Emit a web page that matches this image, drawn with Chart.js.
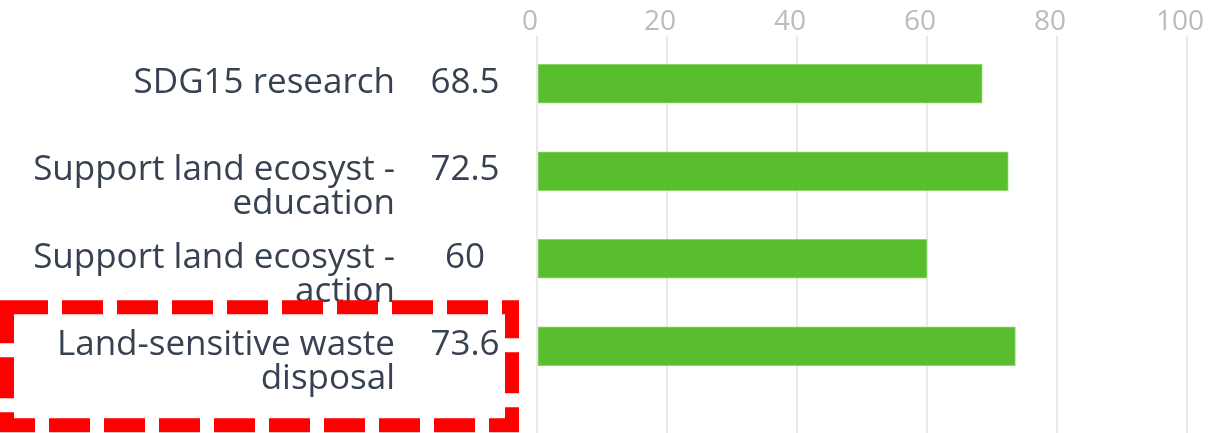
<!DOCTYPE html>
<html>
<head>
<meta charset="utf-8">
<script src="https://cdn.jsdelivr.net/npm/chart.js@4"></script>
<style>
  html, body { margin: 0; padding: 0; background: #fff; overflow: hidden; }
  #wrap { position: relative; width: 1215px; height: 433px; }
</style>
</head>
<body>
<div id="wrap"><canvas id="chart"></canvas></div>
<script>
// chart values
const categories = [
  ['SDG15 research'],
  ['Support land ecosyst -', 'education'],
  ['Support land ecosyst -', 'action'],
  ['Land-sensitive waste', 'disposal'],
];
const scores = [68.5, 72.5, 60, 73.6];
const scoreLabels = ['68.5', '72.5', '60', '73.6'];
const xTicks = [0, 20, 40, 60, 80, 100];
const highlighted = 3;

const TEXT = '#364152';
const GRID = '#e9e9e9';

// left-hand labels + value column, first line sits on the bar centre
const sideLabels = {
  id: 'sideLabels',
  afterDraw(chart) {
    const { ctx, scales: { y } } = chart;
    ctx.save();
    ctx.fillStyle = TEXT;
    ctx.font = "35px 'Open Sans', sans-serif";
    ctx.textBaseline = 'alphabetic';
    categories.forEach((lines, i) => {
      const cy = y.getPixelForValue(i);
      ctx.textAlign = 'right';
      lines.forEach((line, k) => ctx.fillText(line, 395, cy + 9 + k * 34));
      ctx.textAlign = 'center';
      ctx.fillText(scoreLabels[i], 465, cy + 9);
    });

    // dashed red highlight round the flagged row
    const hy = y.getPixelForValue(highlighted);
    ctx.strokeStyle = '#ff0000';
    ctx.lineWidth = 14;
    ctx.setLineDash([41, 14]);
    ctx.strokeRect(7, hy - 39, 505, 118);
    ctx.restore();
  },
};

// gridlines keep going below the last row down to the edge
const gridTail = {
  id: 'gridTail',
  beforeDatasetsDraw(chart) {
    const { ctx, chartArea, scales: { x } } = chart;
    ctx.save();
    ctx.strokeStyle = GRID;
    ctx.lineWidth = 2;
    x.ticks.forEach((t) => {
      const px = Math.round(x.getPixelForValue(t.value));
      ctx.beginPath();
      ctx.moveTo(px, chartArea.bottom);
      ctx.lineTo(px, chart.height);
      ctx.stroke();
    });
    ctx.restore();
  },
};

new Chart(document.getElementById('chart'), {
  type: 'bar',
  data: {
    labels: categories,
    datasets: [{
      data: scores,
      backgroundColor: '#58be2e',
      borderColor: '#8fd66f',
      borderWidth: 1,
      borderSkipped: false,
      barThickness: 39,
    }],
  },
  options: {
    indexAxis: 'y',
    responsive: true,
    maintainAspectRatio: false,
    animation: false,
    layout: { padding: { left: 537, right: 28, top: 8, bottom: 43 } },
    plugins: { legend: { display: false }, tooltip: { enabled: false } },
    scales: {
      x: {
        position: 'top',
        min: 0,
        max: 100,
        afterBuildTicks: (axis) => { axis.ticks = xTicks.map((v) => ({ value: v })); },
        ticks: {
          color: '#bbbbbb',
          padding: 0,
          labelOffset: -7,
          font: { family: "'Liberation Sans Narrow', 'Open Sans', sans-serif", size: 28, lineHeight: 1 },
        },
        grid: { color: GRID, lineWidth: 2, tickLength: 4 },
        border: { display: false },
      },
      y: { display: false },
    },
  },
  plugins: [gridTail, sideLabels],
});
</script>
</body>
</html>
